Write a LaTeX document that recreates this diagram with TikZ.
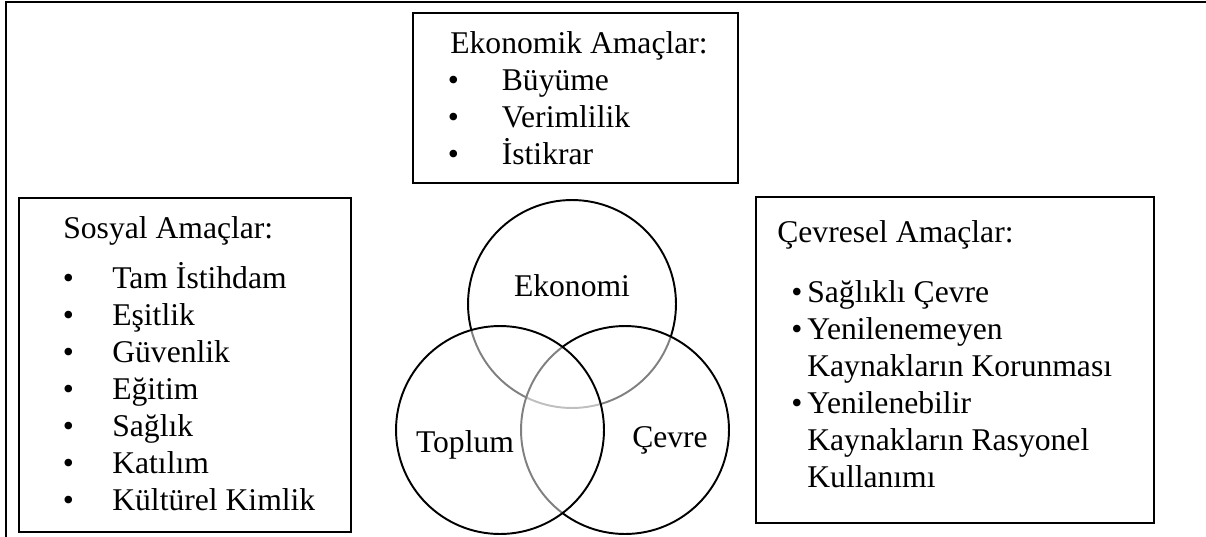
\documentclass[tikz,border=0pt]{standalone}
\usepackage{fontspec}
\setmainfont{Liberation Serif}
\usetikzlibrary{positioning}

\newcommand{\bul}[1]{\makebox[#1][l]{\textbullet}}

\begin{document}
\begin{tikzpicture}[
    x=0.02cm, y=-0.02cm,
    frame/.style={line width=1.1pt},
    box/.style={rectangle, draw=black, line width=1.1pt, inner sep=0pt},
    ring/.style={circle, draw=black, line width=1.1pt, fill=white, fill opacity=0.5, minimum size=4.16cm, inner sep=0pt},
    txt/.style={inner sep=0pt, anchor=base west, align=left, font=\fontsize{18}{21}\selectfont},
    lbl/.style={inner sep=0pt, anchor=base, font=\fontsize{18}{21}\selectfont}
]
\useasboundingbox (0,0) rectangle (1206,537);
\draw[frame] (6,537) -- (6,2) -- (1206,2);

% goal boxes
\node[box, minimum width=6.5cm, minimum height=3.4cm] (econbox) at (575.5,98) {};
\node[box, minimum width=6.64cm, minimum height=6.68cm] (socbox) at (185,365) {};
\node[box, minimum width=7.96cm, minimum height=6.52cm] (envbox) at (955,360) {};

% lists: base anchor sits on the last line
\node[txt] (econhead) at (450,54) {Ekonomik Amaçlar:};
\node[txt] (econlist) at (447.5,164) {\bul{1.08cm}Büyüme\\ \bul{1.08cm}Verimlilik\\ \bul{1.08cm}İstikrar};

\node[txt] (sochead) at (63,238) {Sosyal Amaçlar:};
\node[txt] (soclist) at (62.5,510) {\bul{0.99cm}Tam İstihdam\\ \bul{0.99cm}Eşitlik\\ \bul{0.99cm}Güvenlik\\ \bul{0.99cm}Eğitim\\ \bul{0.99cm}Sağlık\\ \bul{0.99cm}Katılım\\ \bul{0.99cm}Kültürel Kimlik};

\node[txt] (envhead) at (777,242) {Çevresel Amaçlar:};
\node[txt] (envlist) at (791,487) {\bul{0.32cm}Sağlıklı Çevre\\ \bul{0.32cm}Yenilenemeyen\\ \makebox[0.32cm]{}Kaynakların Korunması\\ \bul{0.32cm}Yenilenebilir\\ \makebox[0.32cm]{}Kaynakların Rasyonel\\ \makebox[0.32cm]{}Kullanımı};

% venn circles
\node[ring] (eko) at (572,304) {};
\node[ring] (cev) at (625,430) {};
\node[ring] (top) at (500,430) {};

\node[lbl] (ekolbl) at (572,296) {Ekonomi};
\node[lbl] (toplbl) at (465,452) {Toplum};
\node[lbl] (cevlbl) at (670,447) {Çevre};
\end{tikzpicture}
\end{document}
